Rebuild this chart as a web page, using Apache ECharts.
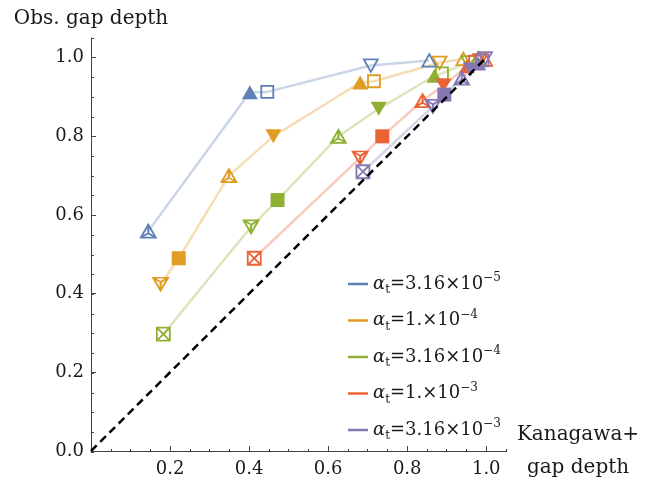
<!DOCTYPE html>
<html>
<head>
<meta charset="utf-8">
<script src="https://cdn.jsdelivr.net/npm/echarts@6/dist/echarts.min.js"></script>
<style>
  html, body { margin: 0; padding: 0; background: #ffffff; }
  #chart { width: 656px; height: 484px; }
</style>
</head>
<body>
<div id="chart"></div>
<script>
// Viscosity labels: alpha_t = mantissa x 10^exponent
const alphaMantissa = ['3.16', '1.', '3.16', '1.', '3.16'];
const alphaExponent = ['−5', '−4', '−4', '−3', '−3'];

// Kanagawa+ predicted gap depth (x) vs observed gap depth (y); massIndex picks the marker
const blueX = [0.145, 0.402, 0.446, 0.708, 0.856];
const blueY = [0.559, 0.912, 0.913, 0.980, 0.993];
const blueMass = [4, 6, 7, 8, 9];

const orangeX = [0.176, 0.222, 0.349, 0.4615, 0.681, 0.716, 0.882, 0.942];
const orangeY = [0.424, 0.490, 0.700, 0.800, 0.937, 0.940, 0.987, 0.997];
const orangeMass = [2, 3, 4, 5, 6, 7, 8, 9];

const greenX = [0.183, 0.405, 0.472, 0.626, 0.728, 0.869, 0.888, 0.955, 0.981];
const greenY = [0.297, 0.570, 0.638, 0.800, 0.870, 0.954, 0.960, 0.988, 0.999];
const greenMass = [1, 2, 3, 4, 5, 6, 7, 8, 9];

const redX = [0.413, 0.681, 0.737, 0.839, 0.892, 0.951, 0.972, 0.985, 0.997];
const redY = [0.490, 0.745, 0.800, 0.891, 0.929, 0.978, 0.990, 0.993, 0.995];
const redMass = [1, 2, 3, 4, 5, 6, 7, 8, 9];

const purpleX = [0.688, 0.865, 0.894, 0.938, 0.961, 0.980, 0.990, 0.997];
const purpleY = [0.710, 0.876, 0.906, 0.948, 0.970, 0.985, 0.993, 0.998];
const purpleMass = [1, 2, 3, 4, 5, 6, 7, 8];

// y = x reference line
const diagonalX = [0, 1];
const diagonalY = [0, 1];

const xTicks = [0.2, 0.4, 0.6, 0.8, 1.0];
const yTicks = [0.0, 0.2, 0.4, 0.6, 0.8, 1.0];

const groups = [
  { x: blueX, y: blueY, m: blueMass, color: '#5E81B5' },
  { x: orangeX, y: orangeY, m: orangeMass, color: '#E19C24' },
  { x: greenX, y: greenY, m: greenMass, color: '#8FB032' },
  { x: redX, y: redY, m: redMass, color: '#EB6235' },
  { x: purpleX, y: purpleY, m: purpleMass, color: '#8778B3' }
];

const FONT = 'DejaVu Serif';

// Marker glyphs
const TRI_UP = 'path://M5,0L10,8.66L0,8.66Z';
const TRI_DOWN = 'path://M0,0L10,0L5,8.66Z';
const TRI_UP_Y = 'path://M5,0L10,8.66L0,8.66ZM5,0L5,5.77M10,8.66L5,5.77M0,8.66L5,5.77';
const TRI_DOWN_Y = 'path://M0,0L10,0L5,8.66ZM5,8.66L5,2.89M0,0L5,2.89M10,0L5,2.89';
const SQUARE_X = 'path://M0,0L10,0L10,10L0,10ZM0,0L10,10M10,0L0,10';
const SQUARE = 'path://M0,0L10,0L10,10L0,10Z';

const markerKinds = {
  1: { symbol: SQUARE_X, size: [13, 13], hollow: true },
  2: { symbol: TRI_DOWN_Y, size: [15, 13], hollow: true },
  3: { symbol: SQUARE, size: [14, 14], hollow: false },
  4: { symbol: TRI_UP_Y, size: [15, 13], hollow: true },
  5: { symbol: TRI_DOWN, size: [16, 14], hollow: false },
  6: { symbol: TRI_UP, size: [16, 14], hollow: false },
  7: { symbol: SQUARE, size: [12, 12], hollow: true },
  8: { symbol: TRI_DOWN, size: [14, 12.5], hollow: true },
  9: { symbol: TRI_UP, size: [14, 12.5], hollow: true }
};

const seriesNames = alphaMantissa.map((m, i) => 'αt=' + m + '×10^' + alphaExponent[i]);

const series = [];

// pale connecting lines
groups.forEach((g) => {
  series.push({
    type: 'line',
    xAxisIndex: 0, yAxisIndex: 0,
    data: g.x.map((v, i) => [v, g.y[i]]),
    showSymbol: false,
    symbol: 'none',
    silent: true,
    lineStyle: { color: g.color, width: 2.5, opacity: 0.33 },
    z: 2
  });
});

// markers
groups.forEach((g, gi) => {
  series.push({
    type: 'scatter',
    name: seriesNames[gi],
    xAxisIndex: 0, yAxisIndex: 0,
    itemStyle: { color: g.color, opacity: 1 },
    silent: true,
    z: 3 + gi,
    data: g.x.map((v, i) => {
      const k = markerKinds[g.m[i]];
      return {
        value: [v, g.y[i]],
        symbol: k.symbol,
        symbolSize: k.size,
        itemStyle: k.hollow
          ? { color: 'transparent', borderColor: g.color, borderWidth: 1.8, opacity: 1 }
          : { color: g.color, borderWidth: 0, opacity: 1 }
      };
    })
  });
});

// dashed y = x
series.push({
  type: 'line',
  xAxisIndex: 0, yAxisIndex: 0,
  data: diagonalX.map((v, i) => [v, diagonalY[i]]),
  showSymbol: false,
  symbol: 'none',
  silent: true,
  lineStyle: { color: '#000000', width: 2.5, type: [8, 5] },
  z: 10
});

const axisColor = '#444444';
const labelColor = '#1a1a1a';

const gridBox = { left: 91, right: 150, top: 38, bottom: 32 };

const option = {
  animation: false,
  backgroundColor: '#ffffff',
  grid: [
    Object.assign({}, gridBox),
    Object.assign({}, gridBox)
  ],
  xAxis: [
    {
      type: 'value', gridIndex: 0, min: 0, max: 1.05, interval: 0.2,
      splitLine: { show: false },
      axisLine: { show: true, onZero: false, lineStyle: { color: axisColor, width: 1 } },
      axisTick: { show: true, inside: true, length: 5, lineStyle: { color: axisColor }, customValues: xTicks },
      axisLabel: {
        customValues: xTicks, margin: 8, color: labelColor, fontFamily: FONT, fontSize: 18, lineHeight: 20,
        formatter: (v) => v.toFixed(1)
      },
      name: 'Kanagawa+\ngap depth',
      nameLocation: 'end',
      nameGap: 72,
      nameTextStyle: { fontFamily: FONT, fontSize: 20, lineHeight: 33, color: labelColor, align: 'center', verticalAlign: 'middle' }
    },
    {
      type: 'value', gridIndex: 1, min: 0, max: 1.05, interval: 0.05,
      splitLine: { show: false },
      axisLine: { show: false, onZero: false },
      axisTick: { show: true, inside: true, length: 3, lineStyle: { color: axisColor } },
      axisLabel: { show: false }
    }
  ],
  yAxis: [
    {
      type: 'value', gridIndex: 0, min: 0, max: 1.05, interval: 0.2,
      splitLine: { show: false },
      axisLine: { show: true, onZero: false, lineStyle: { color: axisColor, width: 1 } },
      axisTick: { show: true, inside: true, length: 5, lineStyle: { color: axisColor }, customValues: yTicks },
      axisLabel: {
        customValues: yTicks, margin: 7, color: labelColor, fontFamily: FONT, fontSize: 18,
        formatter: (v) => v.toFixed(1)
      },
      name: 'Obs. gap depth',
      nameLocation: 'end',
      nameGap: 7,
      nameTextStyle: { fontFamily: FONT, fontSize: 20, lineHeight: 24, color: labelColor, align: 'center', verticalAlign: 'bottom' }
    },
    {
      type: 'value', gridIndex: 1, min: 0, max: 1.05, interval: 0.05,
      splitLine: { show: false },
      axisLine: { show: false, onZero: false },
      axisTick: { show: true, inside: true, length: 3, lineStyle: { color: axisColor } },
      axisLabel: { show: false }
    }
  ],
  legend: {
    orient: 'vertical',
    left: 348,
    top: 272,
    padding: 0,
    itemGap: 12.5,
    itemWidth: 20,
    itemHeight: 2.5,
    icon: 'rect',
    selectedMode: false,
    data: seriesNames.map((n, i) => ({ name: n, itemStyle: { color: groups[i].color, borderWidth: 0, opacity: 1 } })),
    formatter: (name) => {
      const i = seriesNames.indexOf(name);
      return '{a|α}{s|t}{n|=' + alphaMantissa[i] + '×10}{e|' + alphaExponent[i] + '}';
    },
    textStyle: {
      color: labelColor,
      rich: {
        a: { fontFamily: FONT, fontStyle: 'italic', fontSize: 18, lineHeight: 24, color: labelColor },
        s: { fontFamily: FONT, fontSize: 12, lineHeight: 14, verticalAlign: 'bottom', color: labelColor },
        n: { fontFamily: FONT, fontSize: 18, lineHeight: 24, color: labelColor },
        e: { fontFamily: FONT, fontSize: 12, lineHeight: 12, verticalAlign: 'top', color: labelColor }
      }
    }
  },
  series: series
};

const chart = echarts.init(document.getElementById('chart'), null, { renderer: 'canvas' });
chart.setOption(option);
</script>
</body>
</html>
